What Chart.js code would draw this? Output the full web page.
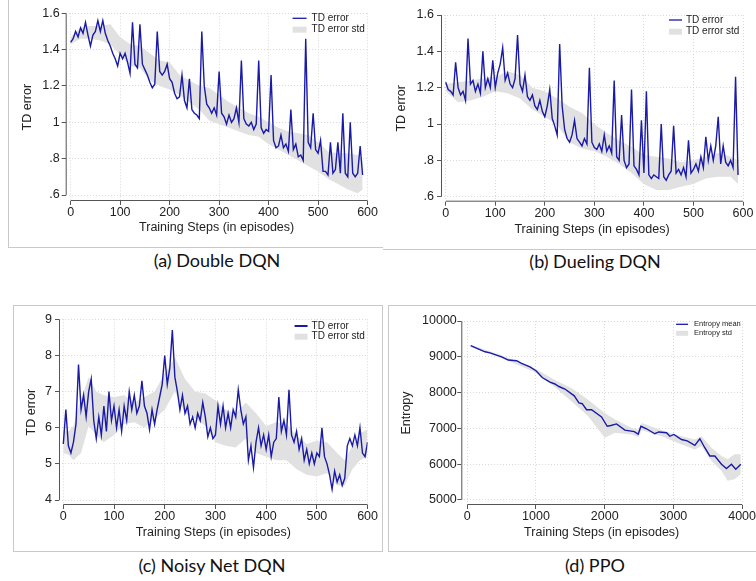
<!DOCTYPE html>
<html lang="en">
<head>
<meta charset="UTF-8" />
<title>TD error and entropy during training</title>
<script src="https://cdn.jsdelivr.net/npm/chart.js"></script>
<style>
  body {
    margin: 0;
    width: 756px;
    height: 581px;
    position: relative;
    overflow: hidden;
    background: #fff;
  }
  canvas { position: absolute; }
  .frame { position: absolute; box-sizing: border-box; border: 0 solid #c9c9c9; }
  .caption {
    position: absolute;
    width: 300px;
    text-align: center;
    font-family: Lato, 'Open Sans', sans-serif;
    font-size: 18px;
    line-height: 20px;
    color: #111;
  }
</style>
</head>
<body>

<div class="frame" style="left:8px; top:-2px; width:375px; height:250px; border-left-width:1px; border-bottom-width:1px;"></div>
<div class="frame" style="left:383px; top:-2px; width:380px; height:252px; border-bottom-width:1px;"></div>
<div class="frame" style="left:13px; top:305px; width:370px; height:247px; border-width:1px;"></div>
<div class="frame" style="left:388px; top:305px; width:380px; height:247px; border-width:1px;"></div>

<canvas id="chartA" width="378" height="245" style="left:0; top:0;"></canvas>
<canvas id="chartB" width="378" height="245" style="left:378px; top:0;"></canvas>
<canvas id="chartC" width="378" height="260" style="left:0; top:290px;"></canvas>
<canvas id="chartD" width="378" height="260" style="left:378px; top:290px;"></canvas>

<div class="caption" style="left:67px; top:250px;">(a) Double DQN</div>
<div class="caption" style="left:445px; top:251px;">(b) Dueling DQN</div>
<div class="caption" style="left:62px; top:555px;">(c) Noisy Net DQN</div>
<div class="caption" style="left:445px; top:555px;">(d) PPO</div>

<script>
  // ---- (a) Double DQN, TD error every 5 episodes ----
  const meanA = [
    1.44, 1.46, 1.50, 1.47, 1.52, 1.49, 1.55, 1.48, 1.42, 1.48,
    1.50, 1.56, 1.50, 1.56, 1.49, 1.45, 1.42, 1.38, 1.35, 1.31,
    1.38, 1.35, 1.38, 1.33, 1.27, 1.55, 1.32, 1.30, 1.54, 1.32,
    1.29, 1.26, 1.22, 1.19, 1.21, 1.50, 1.28, 1.26, 1.28, 1.32,
    1.24, 1.22, 1.16, 1.13, 1.14, 1.26, 1.12, 1.08, 1.24, 1.07,
    1.05, 1.04, 1.02, 1.50, 1.20, 1.10, 1.08, 1.05, 1.08, 1.04,
    1.28, 1.05, 1.03, 0.99, 1.04, 1.00, 1.02, 1.08, 1.00, 1.34,
    1.02, 0.99, 0.98, 1.00, 0.96, 0.99, 1.34, 0.97, 0.94, 0.96,
    0.95, 1.26, 0.90, 0.86, 0.87, 0.93, 0.86, 0.88, 0.84, 1.07,
    0.85, 0.88, 0.81, 0.82, 0.79, 1.46, 0.89, 0.86, 1.05, 0.85,
    0.83, 0.90, 0.73, 0.73, 0.71, 0.89, 0.72, 0.74, 0.89, 0.72,
    1.05, 0.72, 0.70, 1.00, 0.72, 0.70, 0.72, 0.87, 0.71
  ];
  const bandStepsA = [0, 20, 40, 60, 80, 100, 120, 140, 160, 180, 200, 220, 240, 260, 280, 300,
    320, 340, 360, 380, 400, 420, 440, 460, 480, 500, 520, 540, 560, 580, 590];
  const upperA = [1.47, 1.52, 1.53, 1.53, 1.54, 1.47, 1.43, 1.42, 1.38, 1.34, 1.33, 1.26, 1.23, 1.20, 1.19, 1.15,
    1.11, 1.08, 1.05, 1.03, 1.00, 0.97, 0.95, 0.94, 0.93, 0.89, 0.84, 0.83, 0.83, 0.82, 0.79];
  const lowerA = [1.43, 1.46, 1.46, 1.45, 1.43, 1.37, 1.31, 1.30, 1.23, 1.20, 1.18, 1.15, 1.11, 1.07, 1.01, 0.99,
    0.97, 0.95, 0.93, 0.92, 0.88, 0.85, 0.82, 0.79, 0.76, 0.73, 0.69, 0.66, 0.63, 0.61, 0.63];

  // ---- (b) Dueling DQN ----
  const meanB = [
    1.23, 1.19, 1.18, 1.16, 1.34, 1.20, 1.16, 1.18, 1.13, 1.47,
    1.22, 1.24, 1.18, 1.22, 1.17, 1.40, 1.20, 1.25, 1.20, 1.35,
    1.20, 1.28, 1.33, 1.42, 1.24, 1.28, 1.22, 1.20, 1.25, 1.49,
    1.22, 1.18, 1.27, 1.15, 1.13, 1.16, 1.10, 1.08, 1.13, 1.07,
    1.04, 1.10, 1.19, 1.03, 0.99, 0.94, 1.44, 1.10, 0.97, 0.92,
    0.90, 0.94, 1.02, 0.92, 0.90, 0.88, 0.92, 0.89, 1.31, 0.90,
    0.87, 0.86, 0.89, 0.85, 0.94, 0.85, 0.88, 0.84, 1.24, 0.82,
    0.80, 1.05, 0.80, 0.76, 0.78, 1.19, 0.77, 0.75, 0.72, 1.02,
    0.73, 1.18, 0.72, 0.70, 0.72, 0.71, 0.70, 1.00, 0.71, 0.69,
    0.72, 0.74, 0.99, 0.73, 0.75, 0.72, 0.76, 0.71, 0.91, 0.73,
    0.75, 0.78, 0.74, 0.82, 0.76, 0.93, 0.80, 0.88, 0.80, 0.88,
    1.04, 0.78, 0.88, 0.79, 0.77, 0.80, 0.76, 1.26, 0.72
  ];
  const bandStepsB = [0, 25, 50, 75, 100, 125, 150, 175, 200, 225, 250, 275, 300,
    325, 350, 375, 400, 425, 450, 475, 500, 525, 550, 575, 590];
  const upperB = [1.22, 1.23, 1.24, 1.25, 1.26, 1.29, 1.27, 1.20, 1.18, 1.14, 1.095, 1.06, 1.00,
    0.95, 0.91, 0.875, 0.83, 0.82, 0.81, 0.79, 0.80, 0.82, 0.84, 0.82, 0.80];
  const lowerB = [1.18, 1.12, 1.13, 1.15, 1.18, 1.17, 1.14, 1.08, 1.04, 0.995, 0.90, 0.865, 0.85,
    0.82, 0.78, 0.73, 0.67, 0.637, 0.637, 0.655, 0.67, 0.70, 0.71, 0.71, 0.67];

  // ---- (c) Noisy Net DQN ----
  const meanC = [
    5.55, 6.5, 5.5, 5.3, 5.6, 6.1, 7.75, 6.5, 6.9, 6.3,
    7.0, 7.35, 6.2, 5.7, 6.3, 5.8, 6.6, 5.9, 7.0, 6.2,
    6.6, 6.0, 6.5, 5.9, 6.6, 6.2, 7.0, 6.5, 6.9, 6.4,
    6.6, 7.3, 6.6, 6.4, 5.95, 6.5, 6.1, 6.5, 6.85, 7.2,
    8.0, 7.2, 7.65, 8.7, 7.4, 7.0, 6.5, 6.9, 6.4, 6.6,
    6.1, 6.3, 6.0, 6.4, 6.2, 6.7, 6.3, 5.75, 6.0, 5.7,
    5.8, 6.6, 6.1, 6.6, 6.0, 6.4, 6.0, 6.5, 6.3, 7.05,
    6.5, 6.1, 6.3, 5.1, 5.5, 4.9, 5.6, 6.0, 5.5, 5.8,
    5.4, 5.8, 5.2, 5.6, 5.7, 6.85, 5.9, 6.2, 5.8, 7.05,
    5.8, 5.6, 5.9, 5.4, 5.7, 5.1, 5.4, 5.0, 5.3, 5.0,
    5.3, 5.2, 6.0, 5.2, 5.0, 4.7, 4.3, 4.8, 4.5, 4.7,
    4.4, 4.6, 5.5, 5.7, 5.5, 5.8, 5.5, 6.0, 5.3, 5.2,
    5.6
  ];
  const bandStepsC = [0, 10, 20, 35, 50, 65, 80, 100, 120, 140, 160, 180, 200, 220, 240, 260, 280,
    300, 320, 340, 360, 380, 400, 420, 440, 460, 480, 500, 520, 540, 555, 570, 585, 600];
  const upperC = [5.9, 5.9, 6.05, 6.8, 7.4, 7.0, 6.9, 6.85, 6.9, 6.7, 6.85, 7.0, 7.5, 7.95, 7.35, 7.0, 6.95,
    6.75, 6.5, 6.4, 6.7, 6.4, 6.05, 6.15, 6.1, 5.8, 5.55, 5.65, 5.6, 5.3, 5.1, 5.5, 5.85, 5.95];
  const lowerC = [5.3, 5.25, 5.1, 5.3, 6.05, 5.8, 5.6, 5.8, 6.1, 6.15, 6.0, 6.25, 6.5, 7.0, 6.4, 6.25, 6.05,
    5.6, 5.5, 5.45, 5.7, 5.3, 5.2, 5.1, 5.1, 4.85, 4.7, 4.65, 4.75, 4.4, 4.4, 4.85, 5.1, 5.2];

  // ---- (d) PPO entropy ----
  const stepsD = [49, 258, 331, 500, 597, 718, 790, 912, 1000, 1091,
    1203, 1275, 1334, 1421, 1557, 1625, 1673, 1736, 1809, 1954,
    2037, 2090, 2172, 2294, 2430, 2488, 2527, 2609, 2730, 2788,
    2900, 2948, 3007, 3118, 3201, 3312, 3385, 3457, 3530, 3603,
    3700, 3772, 3845, 3908, 3981];
  const meanD = [9310, 9140, 9110, 9000, 8910, 8890, 8815, 8720, 8610, 8420,
    8290, 8240, 8170, 8100, 7910, 7710, 7690, 7520, 7520, 7320,
    7060, 7080, 7125, 6950, 6910, 6840, 7060, 6990, 6850, 6900,
    6880, 6780, 6830, 6690, 6650, 6525, 6710, 6460, 6230, 6230,
    6000, 5880, 6000, 5860, 6000];
  const bandStepsD = [49, 500, 1000, 1275, 1520, 1760, 2000, 2150, 2390, 2490,
    2540, 2830, 3118, 3312, 3410, 3555, 3700, 3790, 3890, 3981];
  const upperD = [9340, 9040, 8660, 8350, 8120, 7800, 7430, 7250, 7020, 6960,
    7150, 6950, 6780, 6690, 6780, 6460, 6230, 6140, 6280, 6280];
  const lowerD = [9280, 8960, 8560, 8150, 7750, 7340, 6740, 6880, 6830, 6760,
    6950, 6780, 6550, 6410, 6510, 6090, 5810, 5540, 5580, 5720];

  // ticks
  const episodeTicks = [0, 100, 200, 300, 400, 500, 600];
  const ppoStepTicks = [0, 1000, 2000, 3000, 4000];
  const tdTicksAB = [0.6, 0.8, 1, 1.2, 1.4, 1.6];
  const tdLabelsAB = ['.6', '.8', '1', '1.2', '1.4', '1.6'];
  const tdTicksC = [4, 5, 6, 7, 8, 9];
  const entropyTicks = [5000, 6000, 7000, 8000, 9000, 10000];

  const LINE = '#1a1aa8';
  const BAND = '#e1e1e1';
  const AXIS = '#555';
  const FONT = '"Liberation Sans", Arial, sans-serif';

  Chart.defaults.font.family = FONT;
  Chart.defaults.font.size = 12.5;
  Chart.defaults.color = '#222';

  const pts = (xs, ys) => xs.map((x, i) => ({ x: x, y: ys[i] }));

  // solid axis lines that only span the tick range (offset axes)
  const axisLines = {
    id: 'axisLines',
    afterDraw(chart) {
      const { ctx, chartArea: a, scales: { x, y } } = chart;
      const xt = x.ticks, yt = y.ticks;
      ctx.save();
      ctx.strokeStyle = AXIS;
      ctx.lineWidth = 1;
      ctx.beginPath();
      ctx.moveTo(a.left + 0.5, y.getPixelForValue(yt[0].value));
      ctx.lineTo(a.left + 0.5, y.getPixelForValue(yt[yt.length - 1].value));
      ctx.moveTo(x.getPixelForValue(xt[0].value), a.bottom - 0.5);
      ctx.lineTo(x.getPixelForValue(xt[xt.length - 1].value), a.bottom - 0.5);
      ctx.stroke();
      ctx.restore();
    }
  };

  // small legend in the top right corner of the plot
  const cornerLegend = {
    id: 'cornerLegend',
    afterDatasetsDraw(chart, args, o) {
      const { ctx, chartArea: a } = chart;
      const ds = chart.data.datasets;
      ctx.save();
      ctx.font = o.size + 'px ' + FONT;
      ctx.textBaseline = 'middle';
      ctx.strokeStyle = LINE;
      ctx.lineWidth = o.lw;
      ctx.beginPath();
      ctx.moveTo(a.right + o.x0, a.top + o.y1);
      ctx.lineTo(a.right + o.x1, a.top + o.y1);
      ctx.stroke();
      ctx.fillStyle = BAND;
      ctx.fillRect(a.right + o.x0, a.top + o.y2 - o.h / 2, o.x1 - o.x0, o.h);
      ctx.fillStyle = '#222';
      ctx.fillText(ds[0].label, a.right + o.tx, a.top + o.y1);
      ctx.fillText(ds[1].label, a.right + o.tx, a.top + o.y2);
      ctx.restore();
    }
  };

  function makePanel(id, c) {
    return new Chart(document.getElementById(id), {
      type: 'line',
      data: {
        datasets: [
          { label: c.lineLabel, data: pts(c.steps, c.mean), borderColor: LINE, borderWidth: 1.4,
            pointRadius: 0, tension: 0, fill: false },
          { label: c.bandLabel, data: pts(c.bandSteps, c.upper), borderColor: 'rgba(0,0,0,0)', borderWidth: 0,
            pointRadius: 0, backgroundColor: BAND, fill: '+1' },
          { label: c.bandLabel + ' (lower)', data: pts(c.bandSteps, c.lower), borderColor: 'rgba(0,0,0,0)',
            borderWidth: 0, pointRadius: 0, fill: false }
        ]
      },
      options: {
        responsive: false,
        animation: false,
        events: [],
        layout: { padding: c.pad },
        plugins: { legend: { display: false }, tooltip: { enabled: false }, cornerLegend: c.legend },
        scales: {
          x: {
            type: 'linear', bounds: 'data', min: c.xMin, max: c.xMax,
            afterBuildTicks: s => { s.ticks = c.xTicks.map(v => ({ value: v })); },
            afterFit: s => { s.height = c.xH; },
            ticks: { padding: 0, maxRotation: 0, autoSkip: false, callback: v => String(v) },
            grid: { color: '#d9d9d9', tickColor: AXIS, tickLength: 4, tickWidth: 1 },
            border: { display: false, dash: [1, 2] },
            title: { display: true, text: 'Training Steps (in episodes)', padding: { top: 0, bottom: c.xTitlePad } }
          },
          y: {
            type: 'linear', bounds: 'data', min: c.yMin, max: c.yMax,
            afterBuildTicks: s => { s.ticks = c.yTicks.map(v => ({ value: v })); },
            afterFit: s => { s.width = c.yW; },
            ticks: { padding: c.yTickPad, autoSkip: false, callback: (v, i) => c.yLabels[i] },
            grid: { color: '#d9d9d9', tickColor: AXIS, tickLength: 4, tickWidth: 1 },
            border: { display: false, dash: [1, 2] },
            title: { display: true, text: c.yTitle, padding: { top: c.yTitlePad, bottom: 0 } }
          }
        }
      },
      plugins: [axisLines, cornerLegend]
    });
  }

  makePanel('chartA', {
    steps: meanA.map((_, i) => i * 5), mean: meanA,
    bandSteps: bandStepsA, upper: upperA, lower: lowerA,
    lineLabel: 'TD error', bandLabel: 'TD error std', yTitle: 'TD error',
    xMin: -10, xMax: 600, xTicks: episodeTicks,
    yMin: 0.567, yMax: 1.6, yTicks: tdTicksAB, yLabels: tdLabelsAB,
    pad: { left: 0, right: 9.7, top: 13.3, bottom: 0 }, yW: 65.7, xH: 44,
    xTitlePad: 9.5, yTitlePad: 20.5, yTickPad: 2,
    legend: { size: 10, lw: 1.3, x0: -75, x1: -61, tx: -56, y1: 5, y2: 16.4, h: 6 }
  });

  makePanel('chartB', {
    steps: meanB.map((_, i) => i * 5), mean: meanB,
    bandSteps: bandStepsB, upper: upperB, lower: lowerB,
    lineLabel: 'TD error', bandLabel: 'TD error std', yTitle: 'TD error',
    xMin: -9.5, xMax: 600, xTicks: episodeTicks,
    yMin: 0.5725, yMax: 1.6, yTicks: tdTicksAB, yLabels: tdLabelsAB,
    pad: { left: 0, right: 13, top: 15, bottom: 0 }, yW: 63, xH: 43.3,
    xTitlePad: 8.2, yTitlePad: 15.8, yTickPad: 3,
    legend: { size: 10, lw: 1.3, x0: -74, x1: -61, tx: -57, y1: 5, y2: 16.7, h: 6 }
  });

  makePanel('chartC', {
    steps: meanC.map((_, i) => i * 5), mean: meanC,
    bandSteps: bandStepsC, upper: upperC, lower: lowerC,
    lineLabel: 'TD error', bandLabel: 'TD error std', yTitle: 'TD error',
    xMin: -8.5, xMax: 600, xTicks: episodeTicks,
    yMin: 3.862, yMax: 9, yTicks: tdTicksC, yLabels: tdTicksC.map(String),
    pad: { left: 0, right: 9.7, top: 29.3, bottom: 0 }, yW: 59, xH: 45,
    xTitlePad: 10.2, yTitlePad: 24.2, yTickPad: 3,
    legend: { size: 10, lw: 2, x0: -73, x1: -60, tx: -56, y1: 6.7, y2: 17.4, h: 6 }
  });

  makePanel('chartD', {
    steps: stepsD, mean: meanD,
    bandSteps: bandStepsD, upper: upperD, lower: lowerD,
    lineLabel: 'Entropy mean', bandLabel: 'Entropy std', yTitle: 'Entropy',
    xMin: -87, xMax: 4000, xTicks: ppoStepTicks,
    yMin: 4860, yMax: 10000, yTicks: entropyTicks, yLabels: entropyTicks.map(String),
    pad: { left: 0, right: 13.7, top: 31, bottom: 0 }, yW: 83.3, xH: 45,
    xTitlePad: 10.2, yTitlePad: 20.8, yTickPad: 0.5,
    legend: { size: 7.5, lw: 1.3, x0: -66, x1: -54, tx: -48, y1: 3.3, y2: 12.3, h: 5 }
  });
</script>

</body>
</html>
